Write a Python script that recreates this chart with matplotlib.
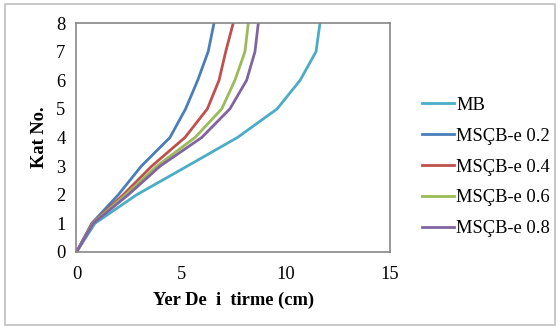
import numpy as np
import matplotlib
matplotlib.use('Agg')
import matplotlib.pyplot as plt
from matplotlib.patches import Rectangle

plt.rcParams['font.family'] = ['Liberation Serif', 'DejaVu Serif']

# floor number (Kat No.) and displacement (cm) per series
kat = [0, 1, 2, 3, 4, 5, 6, 7, 8]
mb = [0, 0.88, 2.88, 5.3, 7.7, 9.6, 10.7, 11.46, 11.65]
e02 = [0, 0.73, 2.0, 3.1, 4.47, 5.22, 5.8, 6.3, 6.58]
e04 = [0, 0.75, 2.24, 3.6, 5.19, 6.26, 6.82, 7.14, 7.5]
e06 = [0, 0.78, 2.35, 3.84, 5.67, 6.95, 7.58, 8.06, 8.22]
e08 = [0, 0.8, 2.48, 4.0, 5.99, 7.34, 8.14, 8.54, 8.7]

names = ['MB', 'MSÇB-e 0.2', 'MSÇB-e 0.4', 'MSÇB-e 0.6', 'MSÇB-e 0.8']
colors = ['#4BACC6', '#4A7EBB', '#C0504D', '#9BBB59', '#8064A2']

fs = 13.3
fig = plt.figure(figsize=(5.6, 3.29), dpi=100)
W, H = 560, 329
ax = fig.add_axes([76.5 / W, 1 - 252 / H, (390 - 76.5) / W, (252 - 23) / H])

for xs, nm, c in zip([mb, e02, e04, e06, e08], names, colors):
    ax.plot(xs, kat, color=c, lw=2.0, label=nm, solid_joinstyle='miter')

ax.set_xlim(0, 15)
ax.set_ylim(0, 8)
ax.set_xticks([0, 5, 10, 15])
ax.set_yticks(range(9))
ax.tick_params(axis='x', length=0, labelsize=fs, pad=10)
ax.tick_params(axis='y', length=0, labelsize=fs, pad=8)
for s in ax.spines.values():
    s.set_color('#868686')
    s.set_linewidth(1.2)

ax.set_xlabel('Yer De  i  tirme (cm)', fontsize=fs, fontweight='bold', labelpad=6)
ax.set_ylabel('Kat No.', fontsize=fs, fontweight='bold', labelpad=6)

ax.legend(loc='center left', bbox_to_anchor=(422 / W, 1 - 167 / H),
          bbox_transform=fig.transFigure, frameon=False, fontsize=fs,
          handlelength=1.75, handletextpad=0.1, labelspacing=0.75,
          borderpad=0, borderaxespad=0)

# outer chart border
fig.patches.append(Rectangle((5 / W, 1 - 325 / H), 550 / W, 321 / H,
                             transform=fig.transFigure, fill=False,
                             edgecolor='#BFBFBF', lw=1.2))

fig.savefig('out.png', dpi=100)
